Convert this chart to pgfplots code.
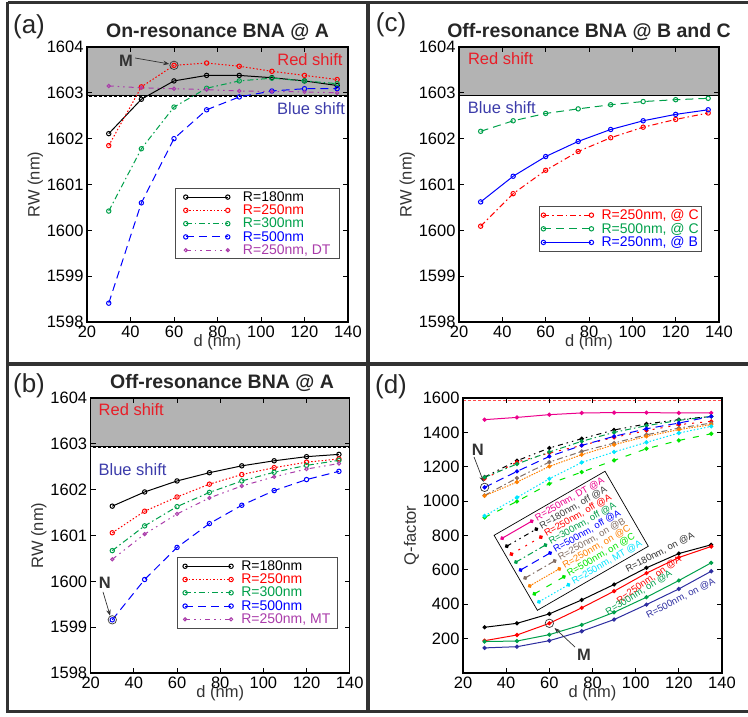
\documentclass[border=0pt]{standalone}
\usepackage{fontspec}
\setmainfont{Liberation Sans}
\usepackage{pgfplots}
\pgfplotsset{compat=1.18}
\usetikzlibrary{arrows.meta}

\definecolor{shade}{RGB}{179,179,179}
\definecolor{mgreen}{RGB}{0,160,75}
\definecolor{mpurple}{RGB}{170,60,170}
\definecolor{redtxt}{RGB}{232,30,40}
\definecolor{bluetxt}{RGB}{60,60,170}
\definecolor{navy}{RGB}{45,45,160}
\definecolor{qorange}{RGB}{255,128,0}
\definecolor{qbrown}{RGB}{130,110,100}
\definecolor{qlime}{RGB}{0,230,0}
\definecolor{qcyan}{RGB}{0,230,255}
\definecolor{frame}{RGB}{50,50,50}

\newcommand\lf{\fontsize{14bp}{16bp}\selectfont}
\newcommand\qf{\fontsize{9.5bp}{10.5bp}\selectfont}

\pgfplotsset{
  panel/.style={
    scale only axis, width=260bp, height=275bp,
    xmin=20, xmax=140, xtick={20,40,...,140},
    tick align=inside, major tick length=5bp,
    axis line style={line width=1.2bp},
    every tick/.style={black, line width=0.8bp},
    ticklabel style={font=\fontsize{16.5bp}{18bp}\selectfont},
    label style={font=\fontsize{16.5bp}{18bp}\selectfont, text=black!80},
    /pgf/number format/assume math mode=true,
    /pgf/number format/set thousands separator={},
    axis on top,
    xlabel={d (nm)},
    xlabel style={yshift=9bp},
    ylabel style={yshift=-3bp},
    legend cell align=left,
    legend style={draw=black!70, line width=0.8bp, fill=white,
      font=\lf, nodes={inner sep=1bp}},
    every axis plot/.append style={line width=1bp, mark size=2.2bp, mark options={solid}},
  },
  rw/.style={ymin=1598, ymax=1604, ytick={1598,...,1604}, ylabel={RW (nm)}},
  legimg/.style={legend image code/.code={\draw[##1, mark repeat=1] plot coordinates {(0bp,0bp) (#1,0bp)};}},
  solidS/.style={solid},
  dotS/.style={dash pattern=on 1.5bp off 2bp},
  dashS/.style={dash pattern=on 8bp off 5bp},
  dashdotS/.style={dash pattern=on 6bp off 3bp on 1.5bp off 3bp},
  dddS/.style={dash pattern=on 5bp off 4bp on 1.5bp off 4bp on 1.5bp off 4bp},
}

% panel (a): on-resonance @ A
\pgfplotstableread{
d     r180     r250     r300     r500     dt
30 1602.11 1601.85 1600.42 1598.41 1603.15
45 1602.86 1603.13 1601.78 1600.60 1603.11
60 1603.26 1603.60 1602.69 1602.00 1603.09
75 1603.38 1603.65 1603.10 1602.63 1603.07
90 1603.38 1603.58 1603.26 1602.91 1603.04
105 1603.33 1603.47 1603.32 1603.04 1603.03
120 1603.26 1603.38 1603.26 1603.09 1603.02
135 1603.16 1603.29 1603.20 1603.09 1603.00
}\tblA

% panel (b): off-resonance @ A
\pgfplotstableread{
d     r180     r250     r300     r500     mt
30 1601.64 1601.06 1600.67 1599.16 1600.48
45 1601.95 1601.53 1601.21 1600.04 1601.03
60 1602.19 1601.84 1601.63 1600.74 1601.47
75 1602.37 1602.12 1601.94 1601.26 1601.82
90 1602.52 1602.33 1602.19 1601.66 1602.08
105 1602.63 1602.48 1602.38 1601.98 1602.28
120 1602.72 1602.60 1602.53 1602.22 1602.45
135 1602.77 1602.67 1602.64 1602.40 1602.57
}\tblB

% panel (c): off-resonance @ B and C
\pgfplotstableread{
d     r250c    r500c    r250b
30 1600.09 1602.16 1600.62
45 1600.80 1602.39 1601.18
60 1601.31 1602.55 1601.61
75 1601.72 1602.65 1601.94
90 1602.02 1602.74 1602.20
105 1602.25 1602.81 1602.39
120 1602.42 1602.85 1602.53
135 1602.56 1602.88 1602.63
}\tblC

% panel (d): Q-factor
\pgfplotstableread{
d  dt   off180 off250 off300 off500 onb250 onc250 onc500 mt250 on180 on250 on300 on500
30 1474 1140 1130 1138 1080 1033 1031 905 914 266 188 183 146
45 1487 1235 1227 1216 1173 1134 1111 998 1021 289 221 186 153
60 1503 1309 1280 1286 1260 1227 1202 1101 1130 344 289 223 188
75 1513 1363 1324 1348 1324 1289 1270 1169 1225 425 379 280 243
90 1515 1414 1371 1400 1377 1338 1328 1237 1286 515 476 353 311
105 1515 1449 1410 1439 1421 1386 1377 1305 1342 612 581 441 398
120 1513 1474 1445 1470 1454 1425 1416 1353 1396 695 672 538 489
135 1513 1493 1464 1493 1493 1454 1445 1392 1435 746 736 641 592
}\tblD

\begin{document}
\begin{tikzpicture}[x=1bp, y=1bp]
\useasboundingbox (0,0) rectangle (748,717);
\coordinate (PA) at (87,395);
\coordinate (PC) at (459,395);
\coordinate (PB) at (90.7,44);
\coordinate (PD) at (463,44);
\coordinate (LD) at (571.2,176.2);

% ---------- (a) ----------
\begin{axis}[panel, rw, at={(PA)}, anchor=south west, width=261bp, legimg=42bp,
  legend style={at={(0.969,0.487)}, anchor=north east, inner xsep=8bp, inner ysep=2bp, column sep=12bp}]
  \addplot[fill=shade, draw=none, forget plot] coordinates {(20,1602.93)(140,1602.93)(140,1604)(20,1604)} -- cycle;
  \addplot[black, line width=1.4bp, no marks, forget plot] coordinates {(20,1602.93)(140,1602.93)};
  \addplot[white, line width=0.6bp, dash pattern=on 2bp off 3bp, no marks, forget plot] coordinates {(20,1602.93)(140,1602.93)};
  \addplot[black, solidS, mark=o] table[x=d, y=r180] {\tblA};
  \addlegendentry{\lf R=180nm}
  \addplot[red, dotS, mark=o] table[x=d, y=r250] {\tblA};
  \addlegendentry{\lf\textcolor{red}{R=250nm}}
  \addplot[mgreen, dashdotS, mark=o] table[x=d, y=r300] {\tblA};
  \addlegendentry{\lf\textcolor{mgreen}{R=300nm}}
  \addplot[blue, dashS, mark=o] table[x=d, y=r500] {\tblA};
  \addlegendentry{\lf\textcolor{blue}{R=500nm}}
  \addplot[mpurple, dddS, mark=o, mark size=1.6bp] table[x=d, y=dt] {\tblA};
  \addlegendentry{\lf\textcolor{mpurple}{R=250nm, DT}}
  \addplot[black!80, only marks, mark=o, mark size=4.2bp, line width=0.7bp, forget plot] coordinates {(60,1603.60)};
  \node[font=\bfseries\fontsize{16.5bp}{18bp}\selectfont, text=black!80] at (axis cs:37.9,1603.69) {M};
  \draw[-{Stealth[length=6bp]}, line width=0.7bp, black!80] (axis cs:42.1,1603.76) -- (axis cs:57.8,1603.63);
  \node[font=\fontsize{16.5bp}{18bp}\selectfont, text=redtxt] at (axis cs:122.5,1603.72) {Red shift};
  \node[font=\fontsize{16.5bp}{18bp}\selectfont, text=bluetxt] at (axis cs:123,1602.65) {Blue shift};
\end{axis}

% ---------- (c) ----------
\begin{axis}[panel, rw, at={(PC)}, anchor=south west, width=260bp, legimg=48bp,
  legend style={at={(0.935,0.422)}, anchor=north east, inner xsep=2bp, inner ysep=2bp, column sep=7bp}]
  \addplot[fill=shade, draw=none, forget plot] coordinates {(20,1602.95)(140,1602.95)(140,1604)(20,1604)} -- cycle;
  \addplot[black, line width=0.8bp, no marks, forget plot] coordinates {(20,1602.95)(140,1602.95)};
  \addplot[red, dashdotS, mark=o] table[x=d, y=r250c] {\tblC};
  \addlegendentry{\lf\textcolor{red}{R=250nm, @ C}}
  \addplot[mgreen, dashS, mark=o] table[x=d, y=r500c] {\tblC};
  \addlegendentry{\lf\textcolor{mgreen}{R=500nm, @ C}}
  \addplot[blue, solidS, mark=o] table[x=d, y=r250b] {\tblC};
  \addlegendentry{\lf\textcolor{blue}{R=250nm, @ B}}
  \node[font=\fontsize{16.5bp}{18bp}\selectfont, text=redtxt] at (axis cs:39.2,1603.75) {Red shift};
  \node[font=\fontsize{16.5bp}{18bp}\selectfont, text=bluetxt] at (axis cs:39.8,1602.68) {Blue shift};
\end{axis}

% ---------- (b) ----------
\begin{axis}[panel, rw, at={(PB)}, anchor=south west, width=259bp, legimg=46bp,
  legend style={at={(0.954,0.421)}, anchor=north east, inner xsep=6bp, inner ysep=2bp, column sep=7bp}]
  \addplot[fill=shade, draw=none, forget plot] coordinates {(20,1602.93)(140,1602.93)(140,1604)(20,1604)} -- cycle;
  \addplot[black, line width=1.4bp, no marks, forget plot] coordinates {(20,1602.93)(140,1602.93)};
  \addplot[white, line width=0.6bp, dash pattern=on 2bp off 3bp, no marks, forget plot] coordinates {(20,1602.93)(140,1602.93)};
  \addplot[black, solidS, mark=o] table[x=d, y=r180] {\tblB};
  \addlegendentry{\lf R=180nm}
  \addplot[red, dotS, mark=o] table[x=d, y=r250] {\tblB};
  \addlegendentry{\lf\textcolor{red}{R=250nm}}
  \addplot[mgreen, dashdotS, mark=o] table[x=d, y=r300] {\tblB};
  \addlegendentry{\lf\textcolor{mgreen}{R=300nm}}
  \addplot[blue, dashS, mark=o] table[x=d, y=r500] {\tblB};
  \addlegendentry{\lf\textcolor{blue}{R=500nm}}
  \addplot[mpurple, dddS, mark=o, mark size=1.6bp] table[x=d, y=mt] {\tblB};
  \addlegendentry{\lf\textcolor{mpurple}{R=250nm, MT}}
  \addplot[black!80, only marks, mark=o, mark size=4.2bp, line width=0.7bp, forget plot] coordinates {(30,1599.16)};
  \node[font=\bfseries\fontsize{16.5bp}{18bp}\selectfont, text=black!80] at (axis cs:26.6,1599.96) {N};
  \draw[-{Stealth[length=6bp]}, line width=0.7bp, black!80] (axis cs:25.7,1599.77) -- (axis cs:29.0,1599.25);
  \node[font=\fontsize{16.5bp}{18bp}\selectfont, text=redtxt] at (axis cs:38.8,1603.75) {Red shift};
  \node[font=\fontsize{16.5bp}{18bp}\selectfont, text=bluetxt] at (axis cs:39.4,1602.44) {Blue shift};
\end{axis}

% ---------- (d) ----------
\begin{axis}[panel, at={(PD)}, anchor=south west, width=259bp,
  ymin=0, ymax=1600, ytick={200,400,...,1600}, ylabel={Q-factor},
  every axis plot/.append style={mark=*, mark size=1.6bp}]
  \addplot[red!70, line width=0.5bp, dash pattern=on 3bp off 2bp, no marks] coordinates {(20,1588)(140,1588)};
  \addplot[magenta, solidS] table[x=d, y=dt] {\tblD};
  \addplot[black, dddS] table[x=d, y=off180] {\tblD};
  \addplot[red, dash pattern=on 2bp off 6bp] table[x=d, y=off250] {\tblD};
  \addplot[mgreen, dashdotS] table[x=d, y=off300] {\tblD};
  \addplot[blue, dashS] table[x=d, y=off500] {\tblD};
  \addplot[qbrown, dashdotS] table[x=d, y=onb250] {\tblD};
  \addplot[qorange, dash pattern=on 1.5bp off 1.2bp] table[x=d, y=onc250] {\tblD};
  \addplot[qlime, dash pattern=on 6bp off 8bp] table[x=d, y=onc500] {\tblD};
  \addplot[qcyan, dotS] table[x=d, y=mt250] {\tblD};
  \addplot[black, solidS] table[x=d, y=on180] {\tblD};
  \addplot[red, solidS] table[x=d, y=on250] {\tblD};
  \addplot[mgreen, solidS] table[x=d, y=on300] {\tblD};
  \addplot[navy, solidS] table[x=d, y=on500] {\tblD};
  \addplot[black!80, only marks, mark=o, mark size=4.2bp, line width=0.7bp] coordinates {(30,1080) (60,289)};
  \node[font=\bfseries\fontsize{16.5bp}{18bp}\selectfont, text=black!80] at (axis cs:26.9,1297) {N};
  \draw[-{Stealth[length=6bp]}, line width=0.7bp, black!80] (axis cs:25.1,1257) -- (axis cs:29.6,1110);
  \node[font=\bfseries\fontsize{16.5bp}{18bp}\selectfont, text=black!80] at (axis cs:76.1,105) {M};
  \draw[-{Stealth[length=6bp]}, line width=0.7bp, black!80] (axis cs:71.9,151) -- (axis cs:62.4,262);
  \node[rotate=27.7, inner sep=0pt, font=\qf, text=black!80] at (axis cs:111.3,701) {R=180nm, on @A};
  \node[rotate=35, inner sep=0pt, font=\qf, text=red] at (axis cs:106.2,541) {R=250nm, on @A};
  \node[rotate=32, inner sep=0pt, font=\qf, text=mgreen] at (axis cs:101.5,465) {R=300nm, on @A};
  \node[rotate=27.7, inner sep=0pt, font=\qf, text=navy] at (axis cs:120.9,435) {R=500nm, on @A};
\end{axis}

% rotated legend of panel (d)
\begin{scope}[transform canvas={rotate around={30:(LD)}}]
\begin{axis}[hide axis, scale only axis, width=10bp, height=10bp,
  at={(LD)}, anchor=center, xmin=0, xmax=1, ymin=0, ymax=1,
  legend cell align=left,
  legend image code/.code={\draw[#1, mark repeat=1] plot coordinates {(0bp,0bp) (34bp,0bp)};},
  legend style={at={(0.5,0.5)}, anchor=center, draw=black, line width=0.7bp,
    fill=white, font=\qf, nodes={inner sep=0.4bp}, inner xsep=4bp, column sep=3bp}]
  \addlegendimage{magenta, solid, line width=1bp, mark=*, mark size=1.6bp}
  \addlegendentry{\qf\textcolor{magenta}{R=250nm, DT @A}}
  \addlegendimage{black, dddS, line width=1bp, mark=*, mark size=1.6bp, mark options={solid}}
  \addlegendentry{\qf\textcolor{black!75}{R=180nm, off @A}}
  \addlegendimage{red, dash pattern=on 2bp off 6bp, line width=1bp, mark=*, mark size=1.6bp, mark options={solid}}
  \addlegendentry{\qf\textcolor{red}{R=250nm, off @A}}
  \addlegendimage{mgreen, dashdotS, line width=1bp, mark=*, mark size=1.6bp, mark options={solid}}
  \addlegendentry{\qf\textcolor{mgreen}{R=300nm, off @A}}
  \addlegendimage{blue, dashS, line width=1bp, mark=*, mark size=1.6bp, mark options={solid}}
  \addlegendentry{\qf\textcolor{blue}{R=500nm, off @A}}
  \addlegendimage{qbrown, dashdotS, line width=1bp, mark=*, mark size=1.6bp, mark options={solid}}
  \addlegendentry{\qf\textcolor{qbrown}{R=250nm, on @B}}
  \addlegendimage{qorange, dash pattern=on 1.5bp off 1.2bp, line width=1bp, mark=*, mark size=1.6bp, mark options={solid}}
  \addlegendentry{\qf\textcolor{qorange}{R=250nm, on @C}}
  \addlegendimage{qlime, dash pattern=on 6bp off 8bp, line width=1bp, mark=*, mark size=1.6bp, mark options={solid}}
  \addlegendentry{\qf\textcolor{qlime}{R=500nm, on @C}}
  \addlegendimage{qcyan, dotS, line width=1bp, mark=*, mark size=1.6bp, mark options={solid}}
  \addlegendentry{\qf\textcolor{qcyan}{R=250nm, MT @A}}
\end{axis}
\end{scope}

% titles and panel letters
\node[font=\bfseries\fontsize{19.5bp}{21bp}\selectfont, text=black!85] at (217.5,685) {On-resonance BNA @ A};
\node[font=\bfseries\fontsize{19.5bp}{21bp}\selectfont, text=black!85] at (589,685) {Off-resonance BNA @ B and C};
\node[font=\bfseries\fontsize{19.5bp}{21bp}\selectfont, text=black!85] at (222,334) {Off-resonance BNA @ A};
\node[font=\fontsize{26bp}{28bp}\selectfont, text=black!85] at (29,690) {(a)};
\node[font=\fontsize{26bp}{28bp}\selectfont, text=black!85] at (391,692) {(c)};
\node[font=\fontsize{26bp}{28bp}\selectfont, text=black!85] at (29,331) {(b)};
\node[font=\fontsize{26bp}{28bp}\selectfont, text=black!85] at (391,330) {(d)};

% panel frames
\draw[frame, line width=3.5bp] (7.5,714.5) -- (748,714.5);
\draw[frame, line width=3.5bp] (7.5,714.5) -- (7.5,5);
\draw[frame, line width=3.5bp] (5.8,5.5) -- (748,5.5);
\draw[frame, line width=3.5bp] (368,714.5) -- (368,5);
\draw[frame, line width=3.5bp] (7.5,353) -- (748,353);
\end{tikzpicture}
\end{document}
